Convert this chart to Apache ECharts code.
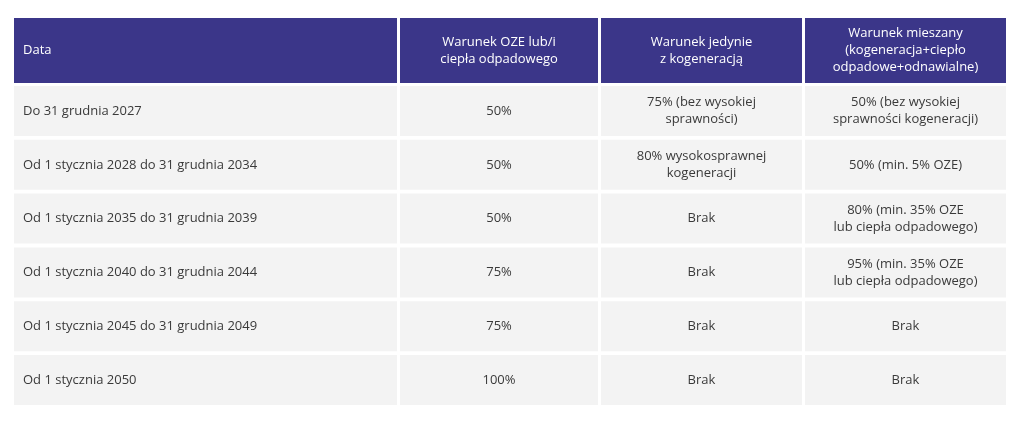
<!DOCTYPE html>
<html><head><meta charset="utf-8">
<script src="https://cdn.jsdelivr.net/npm/echarts@6/dist/echarts.min.js"></script>
<style>html,body{margin:0;background:#fff}#main{width:1024px;height:428px}</style>
</head><body><div id="main"></div>
<script>
var headers = ['Data', 'Warunek OZE lub/i\nciepła odpadowego', 'Warunek jedynie\nz kogeneracją', 'Warunek mieszany\n(kogeneracja+ciepło\nodpadowe+odnawialne)'];
var dates = ['Do 31 grudnia 2027', 'Od 1 stycznia 2028 do 31 grudnia 2034', 'Od 1 stycznia 2035 do 31 grudnia 2039',
  'Od 1 stycznia 2040 do 31 grudnia 2044', 'Od 1 stycznia 2045 do 31 grudnia 2049', 'Od 1 stycznia 2050'];
var oze = ['50%', '50%', '50%', '75%', '75%', '100%'];
var kogeneracja = ['75% (bez wysokiej\nsprawności)', '80% wysokosprawnej\nkogeneracji', 'Brak', 'Brak', 'Brak', 'Brak'];
var mieszany = ['50% (bez wysokiej\nsprawności kogeneracji)', '50% (min. 5% OZE)', '80% (min. 35% OZE\nlub ciepła odpadowego)',
  '95% (min. 35% OZE\nlub ciepła odpadowego)', 'Brak', 'Brak'];

// layout (pixel units of the value axes)
var colEdges = [[14, 397], [400, 598], [601, 802], [805, 1006]];
var headRow = [18, 83];
var rowTop = 86, rowH = 50, rowGap = 3.8;

var columns = [dates, oze, kogeneracja, mieszany];
var data = [];
headers.forEach(function (h, c) { data.push([c, -1, h]); });
for (var r = 0; r < dates.length; r++) {
  for (var c = 0; c < 4; c++) data.push([c, r, columns[c][r]]);
}

var chart = echarts.init(document.getElementById('main'));
chart.setOption({
  animation: false,
  grid: { left: 0, right: 0, top: 0, bottom: 0 },
  xAxis: { type: 'value', min: 0, max: 1024, show: false },
  yAxis: { type: 'value', min: 0, max: 428, inverse: true, show: false },
  series: [{
    type: 'custom',
    data: data,
    renderItem: function (params, api) {
      var c = api.value(0), r = api.value(1), txt = data[params.dataIndex][2];
      var y0, y1;
      if (r < 0) { y0 = headRow[0]; y1 = headRow[1]; }
      else { y0 = rowTop + r * (rowH + rowGap); y1 = y0 + rowH; }
      var p0 = api.coord([colEdges[c][0], y0]), p1 = api.coord([colEdges[c][1], y1]);
      var head = r < 0;
      var left = c === 0;
      return {
        type: 'group',
        children: [{
          type: 'rect',
          shape: { x: p0[0], y: p0[1], width: p1[0] - p0[0], height: p1[1] - p0[1] },
          style: { fill: head ? '#3b3689' : '#f3f3f3' }
        }, {
          type: 'text',
          style: {
            text: txt,
            x: left ? p0[0] + 9 : (p0[0] + p1[0]) / 2,
            y: (p0[1] + p1[1]) / 2,
            align: left ? 'left' : 'center',
            verticalAlign: 'middle',
            fill: head ? '#ffffff' : '#3a3a3a',
            font: '13px "Open Sans", sans-serif',
            lineHeight: 17
          }
        }]
      };
    }
  }]
});
</script></body></html>
